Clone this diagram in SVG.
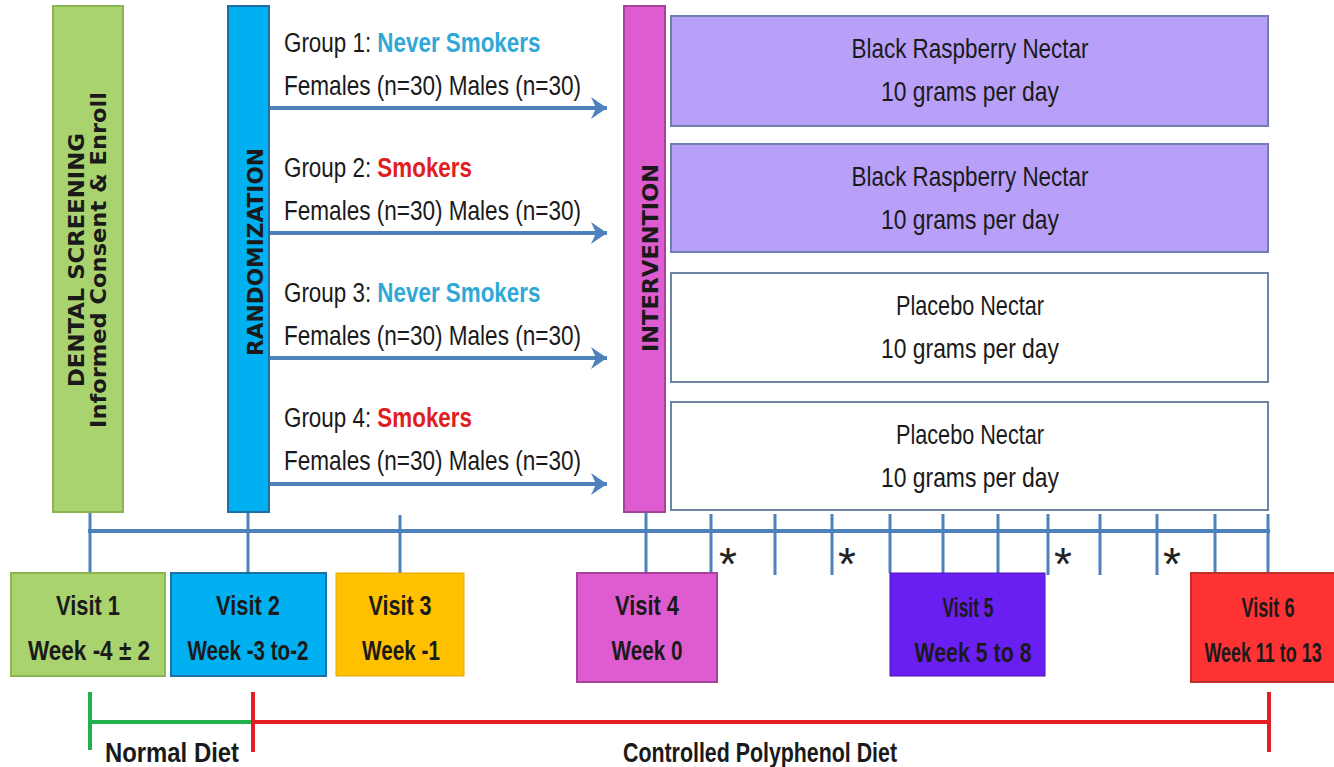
<svg xmlns="http://www.w3.org/2000/svg" width="1334" height="767" viewBox="0 0 1334 767">
<defs>
<marker id="arr" markerUnits="userSpaceOnUse" markerWidth="20" markerHeight="24" refX="16" refY="12" orient="auto">
<path d="M0,1 L16,12 L0,23 L5,12 Z" fill="#4f81bd"/>
</marker>
<style>
.vt{font-family:"DejaVu Sans","Liberation Sans",sans-serif;font-weight:bold;fill:#1a1a1a;text-anchor:middle}
.line{stroke:#4f81bd;fill:none}
.arrow{stroke:#4f81bd;stroke-width:4;fill:none;marker-end:url(#arr)}
.tick{stroke:#4f81bd;stroke-width:3}
.rx{fill:#b8a0f8;stroke:#6f7fb0;stroke-width:2}
.wx{fill:#ffffff;stroke:#6f85a8;stroke-width:2}
.bt{font-family:"Liberation Sans",Arial,sans-serif;font-size:28px;fill:#1a1a1a;text-anchor:middle}
.vis{font-family:"Liberation Sans",Arial,sans-serif;font-weight:bold;font-size:28px;fill:#1a1a1a;text-anchor:middle}
.gt{font-family:"Liberation Sans",Arial,sans-serif;font-size:28px;fill:#1a1a1a}
.nv{font-weight:bold;fill:#2fa8d8}
.sm{font-weight:bold;fill:#e02020}
.ast{font-family:"Liberation Sans",Arial,sans-serif;font-size:46px;fill:#222;text-anchor:middle}
</style>
</defs>
<rect width="1334" height="767" fill="#ffffff"/>

<g id="connectors">
<line class="line" x1="88" y1="531" x2="1270" y2="531" stroke-width="4"/>
<line class="tick" x1="90" y1="512" x2="90" y2="573"/>
<line class="tick" x1="248" y1="512" x2="248" y2="573"/>
<line class="tick" x1="400" y1="515" x2="400" y2="573"/>
<line class="tick" x1="646" y1="512" x2="646" y2="573"/>
<line class="tick" x1="711" y1="514" x2="711" y2="573"/>
<line class="tick" x1="775" y1="514" x2="775" y2="575"/>
<line class="tick" x1="832" y1="514" x2="832" y2="575"/>
<line class="tick" x1="890" y1="514" x2="890" y2="573"/>
<line class="tick" x1="943" y1="514" x2="943" y2="573"/>
<line class="tick" x1="998" y1="514" x2="998" y2="573"/>
<line class="tick" x1="1048" y1="514" x2="1048" y2="575"/>
<line class="tick" x1="1100" y1="514" x2="1100" y2="575"/>
<line class="tick" x1="1157" y1="514" x2="1157" y2="575"/>
<line class="tick" x1="1215" y1="514" x2="1215" y2="573"/>
<line class="tick" x1="1268" y1="514" x2="1268" y2="573"/>
<line class="arrow" x1="269" y1="108" x2="607" y2="108"/>
<line class="arrow" x1="269" y1="233" x2="607" y2="233"/>
<line class="arrow" x1="269" y1="358" x2="607" y2="358"/>
<line class="arrow" x1="269" y1="484" x2="607" y2="484"/>
</g>

<g id="dental-screening">
<rect x="53" y="6" width="70" height="506" fill="#a9d36f" stroke="#8cb54f" stroke-width="2"/>
<text class="vt" font-size="22" transform="translate(84,260) rotate(-90)" textLength="254" lengthAdjust="spacingAndGlyphs">DENTAL SCREENING</text>
<text class="vt" font-size="22" transform="translate(106,260) rotate(-90)" textLength="336" lengthAdjust="spacingAndGlyphs">Informed Consent &amp; Enroll</text>
</g>

<g id="randomization">
<rect x="228" y="6" width="41" height="506" fill="#00b0f0" stroke="#1f6fa5" stroke-width="2"/>
<text class="vt" font-size="22" transform="translate(263,252) rotate(-90)" textLength="208" lengthAdjust="spacingAndGlyphs">RANDOMIZATION</text>
</g>

<g id="intervention">
<rect x="624" y="6" width="41" height="506" fill="#de5ccf" stroke="#a5449a" stroke-width="2"/>
<text class="vt" font-size="21" transform="translate(658,258) rotate(-90)" textLength="188" lengthAdjust="spacingAndGlyphs">INTERVENTION</text>
</g>

<g id="group1">
<text class="gt" transform="translate(284,52) scale(0.8,1)">Group 1: <tspan class="nv">Never Smokers</tspan></text>
<text class="gt" x="284" y="95" textLength="297" lengthAdjust="spacingAndGlyphs">Females (n=30) Males (n=30)</text>
</g>
<g id="group2">
<text class="gt" transform="translate(284,177) scale(0.8,1)">Group 2: <tspan class="sm">Smokers</tspan></text>
<text class="gt" x="284" y="220" textLength="297" lengthAdjust="spacingAndGlyphs">Females (n=30) Males (n=30)</text>
</g>
<g id="group3">
<text class="gt" transform="translate(284,302) scale(0.8,1)">Group 3: <tspan class="nv">Never Smokers</tspan></text>
<text class="gt" x="284" y="345" textLength="297" lengthAdjust="spacingAndGlyphs">Females (n=30) Males (n=30)</text>
</g>
<g id="group4">
<text class="gt" transform="translate(284,427) scale(0.8,1)">Group 4: <tspan class="sm">Smokers</tspan></text>
<text class="gt" x="284" y="470" textLength="297" lengthAdjust="spacingAndGlyphs">Females (n=30) Males (n=30)</text>
</g>

<g id="treatment1">
<rect class="rx" x="671" y="16" width="597" height="110"/>
<text class="bt" x="970" y="58" textLength="237" lengthAdjust="spacingAndGlyphs">Black Raspberry Nectar</text>
<text class="bt" x="970" y="101" textLength="178" lengthAdjust="spacingAndGlyphs">10 grams per day</text>
</g>
<g id="treatment2">
<rect class="rx" x="671" y="144" width="597" height="108"/>
<text class="bt" x="970" y="186" textLength="237" lengthAdjust="spacingAndGlyphs">Black Raspberry Nectar</text>
<text class="bt" x="970" y="229" textLength="178" lengthAdjust="spacingAndGlyphs">10 grams per day</text>
</g>
<g id="treatment3">
<rect class="wx" x="671" y="273" width="597" height="109"/>
<text class="bt" x="970" y="315" textLength="148" lengthAdjust="spacingAndGlyphs">Placebo Nectar</text>
<text class="bt" x="970" y="358" textLength="178" lengthAdjust="spacingAndGlyphs">10 grams per day</text>
</g>
<g id="treatment4">
<rect class="wx" x="671" y="402" width="597" height="108"/>
<text class="bt" x="970" y="444" textLength="148" lengthAdjust="spacingAndGlyphs">Placebo Nectar</text>
<text class="bt" x="970" y="487" textLength="178" lengthAdjust="spacingAndGlyphs">10 grams per day</text>
</g>

<g id="asterisks">
<text class="ast" x="728" y="580">*</text>
<text class="ast" x="847" y="580">*</text>
<text class="ast" x="1063" y="580">*</text>
<text class="ast" x="1172" y="580">*</text>
</g>

<g id="visit1">
<rect x="11" y="573" width="154" height="103" fill="#a9d36f" stroke="#8cb54f" stroke-width="2"/>
<text class="vis" x="88" y="615" textLength="64" lengthAdjust="spacingAndGlyphs">Visit 1</text>
<text class="vis" x="89" y="660" textLength="122" lengthAdjust="spacingAndGlyphs">Week -4 ± 2</text>
</g>
<g id="visit2">
<rect x="171" y="573" width="155" height="103" fill="#00b0f0" stroke="#1f6fa5" stroke-width="2"/>
<text class="vis" x="248" y="615" textLength="64" lengthAdjust="spacingAndGlyphs">Visit 2</text>
<text class="vis" x="248" y="660" textLength="121" lengthAdjust="spacingAndGlyphs">Week -3 to-2</text>
</g>
<g id="visit3">
<rect x="336" y="573" width="128" height="103" fill="#ffc000" stroke="#e0a800" stroke-width="1"/>
<text class="vis" x="400" y="615" textLength="63" lengthAdjust="spacingAndGlyphs">Visit 3</text>
<text class="vis" x="401" y="660" textLength="78" lengthAdjust="spacingAndGlyphs">Week -1</text>
</g>
<g id="visit4">
<rect x="577" y="573" width="140" height="109" fill="#de5ccf" stroke="#a5449a" stroke-width="2"/>
<text class="vis" x="647" y="615" textLength="64" lengthAdjust="spacingAndGlyphs">Visit 4</text>
<text class="vis" x="647" y="660" textLength="71" lengthAdjust="spacingAndGlyphs">Week 0</text>
</g>
<g id="visit5">
<rect x="890" y="573" width="155" height="103" fill="#6a1ff2" stroke="#4a17b0" stroke-width="1"/>
<text class="vis" x="968" y="617" textLength="51" lengthAdjust="spacingAndGlyphs">Visit 5</text>
<text class="vis" x="973" y="662" textLength="117" lengthAdjust="spacingAndGlyphs">Week 5 to 8</text>
</g>
<g id="visit6">
<rect x="1191" y="573" width="145" height="109" fill="#ff3333" stroke="#c0302b" stroke-width="2"/>
<text class="vis" x="1268" y="617" textLength="53" lengthAdjust="spacingAndGlyphs">Visit 6</text>
<text class="vis" transform="translate(1263,662) scale(0.64,1)">Week 11 to 13</text>
</g>

<g id="diet-periods">
<line x1="90" y1="722" x2="253" y2="722" stroke="#22b14c" stroke-width="4"/>
<line x1="90" y1="692" x2="90" y2="750" stroke="#22b14c" stroke-width="4"/>
<line x1="253" y1="722" x2="1269" y2="722" stroke="#e31e24" stroke-width="4"/>
<line x1="253" y1="692" x2="253" y2="752" stroke="#e31e24" stroke-width="4"/>
<line x1="1269" y1="692" x2="1269" y2="752" stroke="#e31e24" stroke-width="4"/>
<text class="vis" x="172" y="762" textLength="134" lengthAdjust="spacingAndGlyphs">Normal Diet</text>
<text class="vis" x="760" y="762" textLength="274" lengthAdjust="spacingAndGlyphs">Controlled Polyphenol Diet</text>
</g>
</svg>
